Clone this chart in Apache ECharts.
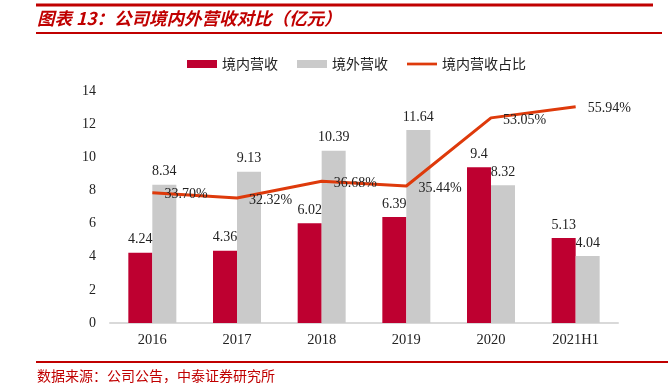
<!DOCTYPE html>
<html>
<head>
<meta charset="utf-8">
<script src="https://cdn.jsdelivr.net/npm/echarts@6/dist/echarts.min.js"></script>
<style>
html,body{margin:0;padding:0;background:#fff;}
#chart{width:668px;height:392px;}
</style>
</head>
<body>
<div id="chart"></div>
<script>
const categories = ['2016', '2017', '2018', '2019', '2020', '2021H1'];
const domesticRevenue = [4.24, 4.36, 6.02, 6.39, 9.4, 5.13];
const overseasRevenue = [8.34, 9.13, 10.39, 11.64, 8.32, 4.04];
const domesticShare = [33.70, 32.32, 36.68, 35.44, 53.05, 55.94];
const yTicks = [0, 2, 4, 6, 8, 10, 12, 14];

const serif = '"Liberation Serif", "Times New Roman", serif';
const cjk = '"Noto Sans CJK SC", sans-serif';
const red = '#C00000';

const chart = echarts.init(document.getElementById('chart'), null, {renderer: 'canvas'});
chart.setOption({
  animation: false,
  backgroundColor: '#fff',
  graphic: [
    {type: 'line', shape: {x1: 36, y1: 5, x2: 653, y2: 5}, style: {stroke: red, lineWidth: 3}},
    {type: 'line', shape: {x1: 36, y1: 33, x2: 662, y2: 33}, style: {stroke: red, lineWidth: 2}},
    {type: 'text', left: 37, top: 10, style: {text: '图表 13：公司境内外营收对比（亿元）', fill: red, font: 'italic bold 17.5px ' + cjk}},
    {type: 'line', shape: {x1: 36, y1: 362, x2: 668, y2: 362}, style: {stroke: red, lineWidth: 2}},
    {type: 'text', left: 37, top: 369, style: {text: '数据来源：公司公告，中泰证券研究所', fill: red, font: '14px ' + cjk}}
  ],
  legend: {
    left: 182, top: 52,
    itemWidth: 30, itemHeight: 8, itemGap: 19,
    textStyle: {fontFamily: cjk, fontSize: 14, color: '#222'},
    data: [
      {name: '境内营收', icon: 'rect'},
      {name: '境外营收', icon: 'rect'},
      {name: '境内营收占比', icon: 'path://M0,0H33V3H0Z', itemWidth: 33}
    ]
  },
  grid: {left: 110, right: 50, top: 91, bottom: 69},
  xAxis: {
    type: 'category',
    data: categories,
    axisLine: {lineStyle: {color: '#D9D9D9', width: 2}},
    axisTick: {show: false},
    axisLabel: {fontFamily: serif, fontSize: 14.5, color: '#222', margin: 10}
  },
  yAxis: [
    {
      type: 'value', min: 0, max: 14, interval: 2,
      axisLine: {show: false}, axisTick: {show: false},
      splitLine: {show: false},
      axisLabel: {fontFamily: serif, fontSize: 14, color: '#222', margin: 14,
        formatter: v => yTicks.includes(v) ? String(v) : ''}
    },
    {
      type: 'value', min: 0, max: 60, show: false,
      splitLine: {show: false}
    }
  ],
  series: [
    {
      name: '境内营收', type: 'bar', data: domesticRevenue,
      barWidth: 24, barGap: '0%',
      itemStyle: {color: '#BE0030'},
      label: {show: true, position: 'top', distance: 6, fontFamily: serif, fontSize: 14, color: '#222'}
    },
    {
      name: '境外营收', type: 'bar', data: overseasRevenue,
      barWidth: 24, barGap: '0%',
      itemStyle: {color: '#CACACA'},
      label: {show: true, position: 'top', distance: 6, fontFamily: serif, fontSize: 14, color: '#222'}
    },
    {
      name: '境内营收占比', type: 'line', yAxisIndex: 1, data: domesticShare,
      symbol: 'circle', symbolSize: 0.1, showSymbol: true,
      lineStyle: {color: '#DE3A0B', width: 3},
      itemStyle: {color: '#DE3A0B'},
      label: {show: true, position: 'right', distance: 12, offset: [0, 2], fontFamily: serif, fontSize: 14, color: '#222',
        formatter: p => p.value.toFixed(2) + '%'}
    }
  ]
});
</script>
</body>
</html>
